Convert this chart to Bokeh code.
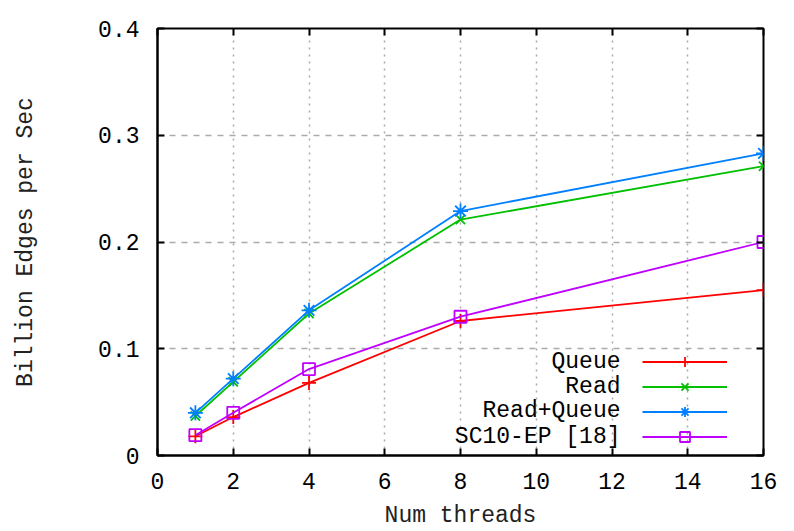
from bokeh.plotting import figure
from bokeh.models import (FixedTicker, LinearAxis, Legend, LegendItem, Label, Range1d)
from bokeh.embed import file_html
from bokeh.resources import INLINE

threads = [1, 2, 4, 8, 16]
queue = [0.018, 0.036, 0.068, 0.126, 0.155]
read = [0.037, 0.069, 0.133, 0.221, 0.271]
read_queue = [0.040, 0.072, 0.136, 0.229, 0.283]
sc10 = [0.019, 0.040, 0.081, 0.130, 0.200]

x_ticks = [0, 2, 4, 6, 8, 10, 12, 14, 16]
y_ticks = [0, 0.1, 0.2, 0.3, 0.4]
y_tick_labels = ["0", "0.1", "0.2", "0.3", "0.4"]

series = [
    ("Queue", queue, "#ff0000", "cross", 14),
    ("Read", read, "#00c000", "x", 13),
    ("Read+Queue", read_queue, "#0080ff", "asterisk", 15),
    ("SC10-EP [18]", sc10, "#c000ff", "square", 12),
]

FONT = "Liberation Mono"
FS = "23px"

p = figure(width=794, height=531, output_backend="svg", toolbar_location=None,
           x_range=Range1d(0, 16), y_range=Range1d(0, 0.4),
           min_border_left=157, min_border_right=31, min_border_top=28,
           min_border_bottom=75)
p.outline_line_color = "black"
p.outline_line_width = 2

for ax in (p.xaxis[0], p.yaxis[0]):
    ax.major_label_text_font = FONT
    ax.major_label_text_font_size = FS
    ax.major_label_text_color = "black"
    ax.axis_label_text_font = FONT
    ax.axis_label_text_font_size = FS
    ax.axis_label_text_font_style = "normal"
    ax.axis_label_text_color = "#222222"
    ax.major_tick_in = 7
    ax.major_tick_out = 0
    ax.minor_tick_line_color = None
    ax.axis_line_width = 2
    ax.major_tick_line_width = 2

p.xaxis[0].ticker = FixedTicker(ticks=x_ticks)
p.yaxis[0].ticker = FixedTicker(ticks=y_ticks)
p.yaxis[0].major_label_overrides = {t: l for t, l in zip(y_ticks, y_tick_labels)}
p.xaxis[0].axis_label = "Num threads"
p.yaxis[0].axis_label = "Billion Edges per Sec"
p.xaxis[0].major_label_standoff = 17
p.xaxis[0].axis_label_standoff = 11
p.yaxis[0].major_label_standoff = 18
p.yaxis[0].axis_label_standoff = 56

# mirrored ticks on top and right (no labels drawn)
top = LinearAxis(ticker=FixedTicker(ticks=x_ticks), major_label_text_color=None,
                 major_tick_in=7, major_tick_out=0, minor_tick_line_color=None,
                 axis_line_color=None, major_tick_line_width=2,
                 major_label_standoff=0)
right = LinearAxis(ticker=FixedTicker(ticks=y_ticks), major_label_text_color=None,
                   major_tick_in=7, major_tick_out=0, minor_tick_line_color=None,
                   axis_line_color=None, major_tick_line_width=2,
                   major_label_standoff=0)
p.add_layout(top, "above")
p.add_layout(right, "right")

p.xgrid.ticker = FixedTicker(ticks=x_ticks)
p.ygrid.ticker = FixedTicker(ticks=y_ticks)
p.xgrid.grid_line_color = "#aaaaaa"
p.xgrid.grid_line_dash = "2 5"
p.xgrid.grid_line_width = 1.5
p.ygrid.grid_line_color = "#aaaaaa"
p.ygrid.grid_line_dash = "6 6"
p.ygrid.grid_line_width = 1.5

items = []
for name, ys, color, marker, size in series:
    r1 = p.line(threads, ys, line_color=color, line_width=1.8)
    r2 = p.scatter(threads, ys, marker=marker, size=size, line_color=color,
                   fill_color=None, line_width=1.8)
    items.append(LegendItem(label=" ", renderers=[r1, r2]))

legend = Legend(items=items, location=(485, 6), glyph_width=85, glyph_height=25,
                spacing=0, padding=0, margin=0, label_standoff=0,
                label_text_color=None, border_line_color=None,
                background_fill_alpha=0)
p.add_layout(legend)

label_y = [94, 69, 45, 19]
for (name, ys, color, marker, size), ly in zip(series, label_y):
    p.add_layout(Label(x=463, y=ly, x_units="screen", y_units="screen", text=name,
                       text_align="right", text_baseline="middle",
                       text_font=FONT, text_font_size=FS, text_color="black"))

open("out.html", "w").write(file_html(p, INLINE))
